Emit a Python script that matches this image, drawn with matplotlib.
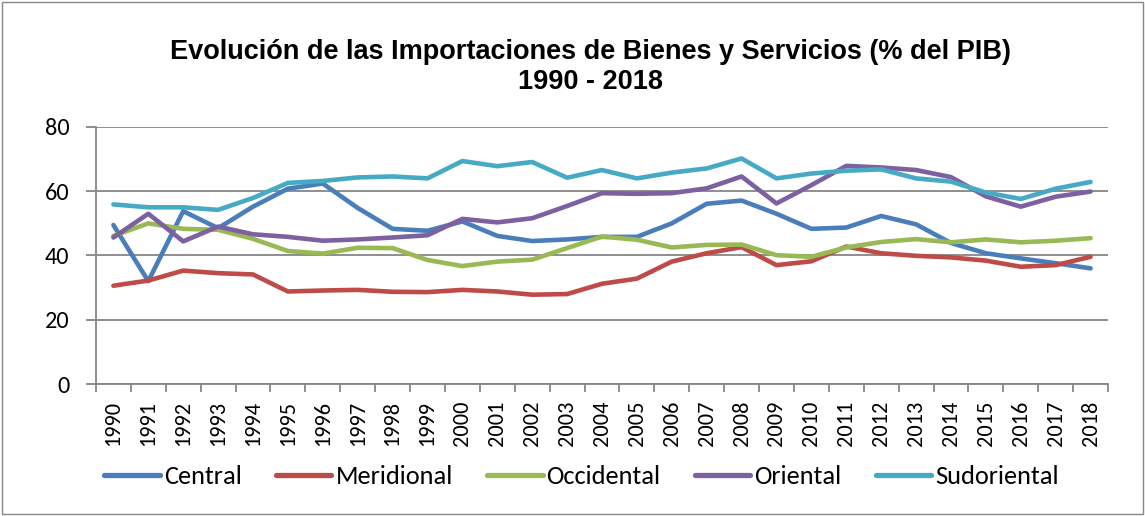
import numpy as np
import matplotlib.pyplot as plt
from matplotlib.patches import Rectangle

years = list(range(1990, 2019))

central = [49.5, 32.0, 53.8, 48.5, 55.2, 60.8, 62.4, 54.8, 48.3, 47.7,
           50.6, 46.1, 44.5, 45.0, 45.8, 45.8, 50.0, 56.1, 57.1, 53.0,
           48.3, 48.7, 52.3, 49.7, 43.9, 40.7, 39.1, 37.6, 36.0]
meridional = [30.6, 32.2, 35.3, 34.5, 34.1, 28.8, 29.1, 29.3, 28.7, 28.6,
              29.3, 28.8, 27.8, 28.0, 31.2, 32.8, 38.1, 40.7, 42.6, 37.0,
              38.2, 42.8, 40.7, 39.9, 39.4, 38.4, 36.5, 37.0, 39.6]
occidental = [46.1, 50.0, 48.3, 48.0, 45.2, 41.4, 40.6, 42.4, 42.3, 38.6,
              36.7, 38.1, 38.7, 42.3, 45.9, 44.9, 42.5, 43.3, 43.4, 40.1,
              39.6, 42.5, 44.2, 45.1, 44.1, 45.0, 44.1, 44.6, 45.4]
oriental = [45.6, 53.0, 44.4, 49.0, 46.6, 45.8, 44.6, 45.0, 45.6, 46.3,
            51.4, 50.3, 51.6, 55.4, 59.4, 59.2, 59.4, 60.9, 64.6, 56.2,
            61.9, 67.9, 67.4, 66.6, 64.4, 58.4, 55.2, 58.3, 59.9]
sudoriental = [55.9, 55.0, 55.0, 54.2, 57.9, 62.6, 63.2, 64.3, 64.6, 64.0,
               69.4, 67.8, 69.1, 64.2, 66.6, 64.0, 65.8, 67.1, 70.2, 64.0,
               65.5, 66.4, 66.8, 64.0, 63.0, 59.6, 57.6, 60.8, 62.9]

series = ['Central', 'Meridional', 'Occidental', 'Oriental', 'Sudoriental']
values = [central, meridional, occidental, oriental, sudoriental]
colors = ['#4A7EBB', '#BE4B48', '#98B954', '#7D60A0', '#46AAC5']

body_font = ['Carlito', 'Lato', 'DejaVu Sans']
plt.rcParams['font.family'] = ['Liberation Sans', 'DejaVu Sans']

fig = plt.figure(figsize=(11.45, 5.16), dpi=100)
ax = fig.add_axes([0.0838, 0.2558, 0.9677 - 0.0838, 0.7539 - 0.2558])

x = np.arange(len(years))
for name, vals, col in zip(series, values, colors):
    ax.plot(x, vals, color=col, lw=3.3, label=name, solid_capstyle='round')

grid_col = '#868686'
ax.set_ylim(0, 80)
ax.set_yticks([0, 20, 40, 60, 80])
ax.yaxis.grid(True, color=grid_col, lw=1.3)
ax.set_axisbelow(True)
ax.set_xlim(-0.5, len(years) - 0.5)
ax.set_xticks(x)
ax.set_xticklabels([str(y) for y in years], rotation=90, family=body_font, fontsize=16)
for lab in ax.get_yticklabels():
    lab.set_family(body_font)
    lab.set_fontsize(17.5)
ax.set_xticks(np.arange(-0.5, len(years), 1), minor=True)
ax.tick_params(axis='x', which='major', length=0, pad=12)
ax.tick_params(axis='x', which='minor', length=5.5, color=grid_col, width=1.3)
ax.tick_params(axis='y', length=7, color=grid_col, width=1.3, pad=12)
for s in ['top', 'right']:
    ax.spines[s].set_visible(False)
for s in ['left', 'bottom']:
    ax.spines[s].set_color(grid_col)
    ax.spines[s].set_linewidth(1.3)

fig.suptitle('Evolución de las Importaciones de Bienes y Servicios (% del PIB)\n1990 - 2018',
             x=0.516, y=0.925, fontsize=19.5, fontweight='bold', linespacing=1.22)

leg = fig.legend(loc='center', bbox_to_anchor=(0.508, 0.0756), ncol=5, frameon=False,
                 prop={'family': body_font, 'size': 19},
                 handlelength=2.1, handletextpad=0.15, columnspacing=1.3)
for h in leg.get_lines():
    h.set_linewidth(3.8)

fig.patches.append(Rectangle((0.002, 0.004), 0.996, 0.992, transform=fig.transFigure,
                             fill=False, edgecolor='#868686', lw=1))

fig.savefig('out.png', dpi=100)
